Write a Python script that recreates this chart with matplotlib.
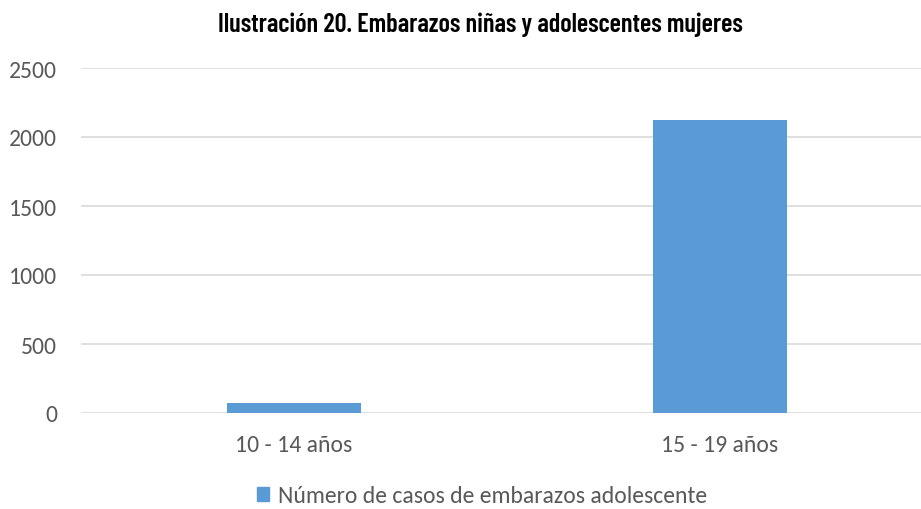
import matplotlib
matplotlib.use('Agg')
import matplotlib.pyplot as plt
from matplotlib.patches import Patch

# datos
categorias = ["10 - 14 años", "15 - 19 años"]
casos = [75, 2120]
serie = "Número de casos de embarazos adolescente"
titulo = "Ilustración 20. Embarazos niñas y adolescentes mujeres"

color_barra = "#5B9BD5"
gris_texto = "#595959"

plt.rcParams['font.family'] = ['Carlito', 'DejaVu Sans']

fig = plt.figure(figsize=(9.21, 5.10), dpi=100)
# el area de trazado sigue un poco mas alla del borde derecho
ax = fig.add_axes([81 / 921, 96 / 510, 852 / 921, 345 / 510])

ax.bar(range(len(categorias)), casos, width=0.315, color=color_barra, zorder=3)

ax.set_xlim(-0.5, 1.5)
ax.set_ylim(0, 2500)
ax.set_yticks([0, 500, 1000, 1500, 2000, 2500])
ax.set_xticks(range(len(categorias)))
ax.set_xticklabels(categorias)

ax.grid(axis='y', color='#D9D9D9', linewidth=1.2, zorder=0)
for s in ax.spines.values():
    s.set_visible(False)
ax.tick_params(axis='both', length=0, labelsize=17, colors=gris_texto)
ax.tick_params(axis='y', pad=17)
ax.tick_params(axis='x', pad=15)

fig.text(480 / 921, 0.975, titulo, ha='center', va='top', fontsize=19,
         fontweight=600, family=['Barlow Condensed', 'DejaVu Sans'],
         color='black')

leg = fig.legend(handles=[Patch(color=color_barra, label=serie)],
                 loc='center', bbox_to_anchor=(482 / 921, 1 - 497 / 510),
                 frameon=False, fontsize=17, handlelength=0.52, handleheight=0.52,
                 handletextpad=0.35)
for t in leg.get_texts():
    t.set_color(gris_texto)

fig.savefig("out.png", dpi=100)
